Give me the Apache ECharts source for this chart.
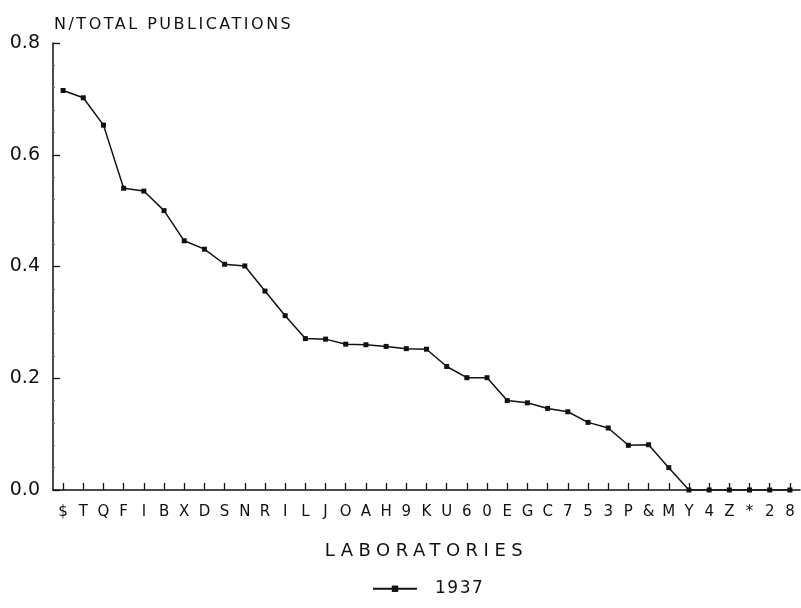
<!DOCTYPE html>
<html>
<head>
<meta charset="utf-8">
<script src="https://cdn.jsdelivr.net/npm/echarts@6/dist/echarts.min.js"></script>
<style>
html,body{margin:0;padding:0;background:#fff;}
#chart{width:801px;height:608px;}
</style>
</head>
<body>
<div id="chart"></div>
<script>
const categories = ['$','T','Q','F','I','B','X','D','S','N','R','I','L','J','O','A','H','9','K','U','6','0','E','G','C','7','5','3','P','&','M','Y','4','Z','*','2','8'];
const values1937 = [0.715,0.702,0.653,0.540,0.535,0.500,0.446,0.431,0.404,0.401,0.356,0.312,0.271,0.270,0.261,0.260,0.257,0.253,0.252,0.221,0.201,0.201,0.160,0.156,0.146,0.140,0.121,0.111,0.080,0.081,0.040,0,0,0,0,0,0];
const seriesName = '1937';
const yTitle = 'N/TOTAL PUBLICATIONS';
const xTitle = 'LABORATORIES';

// wide plotter-style lettering: extra letter spacing per font size
(function () {
  const SP = {'16': '2.5px', '17': '1.5px', '18': '5.5px'};
  const proto = CanvasRenderingContext2D.prototype;
  const d = Object.getOwnPropertyDescriptor(proto, 'font');
  if (!d || !('letterSpacing' in proto)) return;
  Object.defineProperty(proto, 'font', {
    configurable: true,
    get() { return d.get.call(this); },
    set(v) {
      d.set.call(this, v);
      const m = /(\d+)px/.exec(v);
      this.letterSpacing = (m && SP[m[1]]) || '0px';
    }
  });
})();

const FONT = 'DejaVu Sans';
const chart = echarts.init(document.getElementById('chart'), null, {renderer: 'canvas'});
chart.setOption({
  animation: false,
  backgroundColor: '#fff',
  title: {
    text: yTitle,
    left: 49, top: 11,
    textStyle: {fontFamily: FONT, fontSize: 16, fontWeight: 'normal', color: '#111'}
  },
  grid: {left: 53, right: 1, top: 43, bottom: 118, containLabel: false},
  legend: {
    bottom: 5, left: 367,
    itemWidth: 44, itemHeight: 8, itemGap: 10,
    textStyle: {fontFamily: FONT, fontSize: 17, color: '#111', padding: [0, 0, 0, 13]},
    data: [seriesName]
  },
  xAxis: {
    type: 'category',
    data: categories,
    boundaryGap: true,
    name: xTitle,
    nameLocation: 'middle',
    nameGap: 50,
    nameTextStyle: {fontFamily: FONT, fontSize: 18, color: '#111'},
    axisLine: {lineStyle: {color: '#111', width: 1.5}},
    axisTick: {show: true, inside: true, alignWithLabel: true, length: 7, lineStyle: {color: '#111', width: 1.3}},
    axisLabel: {interval: 0, margin: 15, fontFamily: FONT, fontSize: 15, color: '#111'},
    splitLine: {show: false}
  },
  yAxis: {
    type: 'value',
    min: 0, max: 0.8, interval: 0.2,
    axisLine: {show: true, lineStyle: {color: '#111', width: 1.5}},
    axisTick: {show: true, inside: true, length: 7, lineStyle: {color: '#111', width: 1.3}},
    minorTick: {show: true, splitNumber: 5, length: 2, lineStyle: {color: '#777', width: 1}},
    axisLabel: {margin: 13, fontFamily: FONT, fontSize: 19, color: '#111',
      formatter: v => v.toFixed(1)},
    splitLine: {show: false}
  },
  series: [{
    name: seriesName,
    type: 'line',
    data: values1937,
    symbol: 'rect',
    symbolSize: 5,
    showSymbol: true,
    lineStyle: {color: '#111', width: 1.5},
    itemStyle: {color: '#111'}
  }]
});
</script>
</body>
</html>
